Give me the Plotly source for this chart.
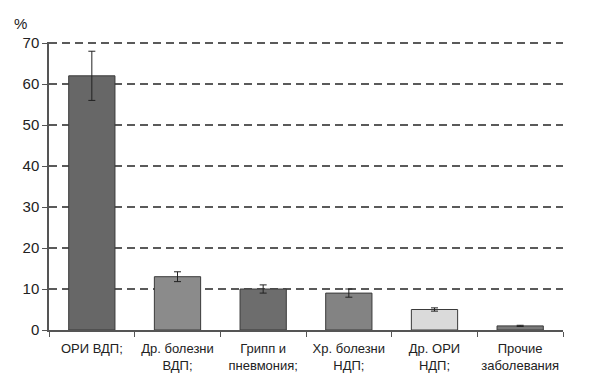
import plotly.graph_objects as go

categories = ["ОРИ ВДП;", "Др. болезни<br>ВДП;", "Грипп и<br>пневмония;",
              "Хр. болезни<br>НДП;", "Др. ОРИ<br>НДП;", "Прочие<br>заболевания"]
values = [62, 13, 10, 9, 5, 1]
errors = [6, 1.2, 1, 1, 0.4, 0.15]
bar_colors = ["#676767", "#8b8b8b", "#6d6d6d", "#838383", "#dadada", "#7a7a7a"]
y_ticks = [0, 10, 20, 30, 40, 50, 60, 70]

fig = go.Figure(go.Bar(
    x=categories, y=values,
    marker=dict(color=bar_colors, line=dict(color="#3a3a3a", width=1)),
    width=0.54,
    error_y=dict(type="data", array=errors, visible=True, color="#222222",
                 thickness=1, width=3.5),
))

# page body has an 8px default margin, so the figure is shrunk by 8px
fig.update_layout(
    width=592, height=369,
    margin=dict(l=41, r=37, t=34, b=47),
    paper_bgcolor="white", plot_bgcolor="white",
    font=dict(family="Liberation Sans, Arial, sans-serif", size=13, color="#222222"),
    showlegend=False,
    annotations=[dict(text="%", x=0, xref="paper", xanchor="right", xshift=-20,
                      y=1, yref="paper", yanchor="bottom", yshift=8,
                      showarrow=False, font=dict(size=15, color="#222222"))],
)
fig.update_xaxes(
    showline=True, linecolor="#555555", linewidth=1.5,
    ticks="outside", tickson="boundaries", ticklen=5, tickcolor="#555555",
    tickfont=dict(size=13, color="#222222"), showgrid=False,
    ticklabelstandoff=6, tickangle=0, automargin=False,
)
fig.update_yaxes(
    range=[0, 70.25], tickvals=y_ticks,
    showline=True, linecolor="#555555", linewidth=1.5,
    ticks="outside", ticklen=5, tickcolor="#555555",
    tickfont=dict(size=15, color="#222222"),
    showgrid=True, gridcolor="#5a5a5a", gridwidth=1.6, griddash="8px,5px",
    zeroline=False, automargin=False,
)

fig.write_html("out.html")
